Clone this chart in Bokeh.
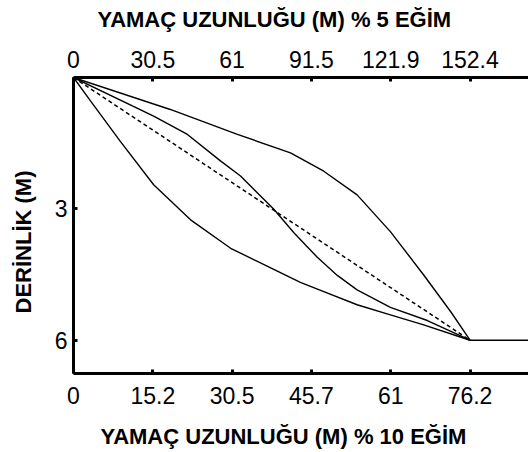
from bokeh.plotting import figure
from bokeh.models import Range1d, LinearAxis, FixedTicker, Title
from bokeh.embed import file_html
from bokeh.resources import INLINE

# ---- data ----
tick_pos = [0, 15.24, 30.48, 45.72, 60.96, 76.2]
bottom_labels = ["0", "15.2", "30.5", "45.7", "61", "76.2"]
top_labels = ["0", "30.5", "61", "91.5", "121.9", "152.4"]
y_ticks = [3, 6]
y_labels = ["3", "6"]

curve_a_x = [0, 18.6, 31.5, 41.7, 48.1, 54.5, 60.9, 67.3, 72.5, 76.2]
curve_a_y = [0, 0.73, 1.30, 1.72, 2.14, 2.68, 3.52, 4.51, 5.35, 6.0]

curve_b_x = [0, 3.3, 9.0, 15.4, 22.5, 30.2, 37.9, 43.6, 48.1, 54.5, 60.9, 67.3, 76.2]
curve_b_y = [0, 0.54, 1.46, 2.45, 3.25, 3.90, 4.35, 4.68, 4.89, 5.19, 5.42, 5.65, 6.0]

curve_c_x = [0, 15.4, 21.9, 28.3, 32.1, 38.5, 42.4, 46.8, 50.7, 54.5, 60.9, 68.0, 76.2]
curve_c_y = [0, 0.88, 1.30, 1.91, 2.25, 3.01, 3.55, 4.10, 4.52, 4.85, 5.25, 5.55, 6.0]

dashed_x = [0, 76.2]
dashed_y = [0, 6.0]

flat_x = [76.2, 95]
flat_y = [6.0, 6.0]

title_top = "YAMAÇ UZUNLUĞU (M) % 5 EĞİM"
title_bottom = "YAMAÇ UZUNLUĞU (M) % 10 EĞİM"
title_left = "DERİNLİK (M)"

# ---- figure ----
p = figure(width=528, height=452, output_backend="svg", toolbar_location=None,
           x_range=Range1d(0, 87.44), y_range=Range1d(6.76, 0),
           x_axis_location=None, y_axis_location=None,
           min_border_left=73, min_border_right=0,
           min_border_top=77, min_border_bottom=79)
p.title = None
p.outline_line_color = None
p.background_fill_color = "white"
p.border_fill_color = "white"
p.grid.visible = False

TICK_FONT = "Liberation Sans"


def style_axis(ax, ticks, labels, standoff):
    ax.ticker = FixedTicker(ticks=ticks)
    ax.major_label_overrides = {t: l for t, l in zip(ticks, labels)}
    ax.axis_line_width = 3
    ax.axis_line_color = "black"
    ax.major_tick_in = 4
    ax.major_tick_out = 0
    ax.major_tick_line_width = 3
    ax.major_tick_line_color = "black"
    ax.minor_tick_line_color = None
    ax.major_label_text_font = TICK_FONT
    ax.major_label_text_font_size = "23px"
    ax.major_label_text_color = "black"
    ax.major_label_standoff = standoff


def spacer(gap, tick):
    # a blank axis (white tick, empty label) that only reserves a gap
    ax = LinearAxis(ticker=FixedTicker(ticks=[tick]))
    ax.major_label_overrides = {tick: ""}
    ax.major_label_text_font_size = "1px"
    ax.major_label_standoff = 0
    ax.axis_line_color = None
    ax.major_tick_line_color = "white"
    ax.major_tick_line_width = 1
    ax.minor_tick_line_color = None
    ax.major_tick_in = 0
    ax.major_tick_out = gap
    return ax


def make_title(text, align_offset, valign, standoff=4):
    return Title(text=text, align="left", offset=align_offset,
                 vertical_align=valign,
                 text_font="Liberation Sans", text_font_size="22px",
                 text_font_style="bold", text_color="black", standoff=standoff)


ax_bottom = LinearAxis()
style_axis(ax_bottom, tick_pos, bottom_labels, 13)
p.add_layout(ax_bottom, "below")
p.add_layout(spacer(13, 0), "below")
p.add_layout(make_title(title_bottom, 27, "bottom"), "below")

ax_top = LinearAxis()
style_axis(ax_top, tick_pos, top_labels, 10)
p.add_layout(ax_top, "above")
p.add_layout(spacer(14, 0), "above")
p.add_layout(make_title(title_top, 24, "bottom"), "above")

ax_left = LinearAxis()
style_axis(ax_left, y_ticks, y_labels, 6)
p.add_layout(ax_left, "left")
p.add_layout(spacer(14, 3), "left")
p.add_layout(make_title(title_left, 60, "bottom"), "left")

# ---- curves ----
for xs, ys in [(curve_a_x, curve_a_y), (curve_b_x, curve_b_y), (curve_c_x, curve_c_y)]:
    p.line(xs, ys, line_color="black", line_width=1.4)

p.line(dashed_x, dashed_y, line_color="black", line_width=1.5, line_dash="4 3")
p.line(flat_x, flat_y, line_color="black", line_width=1.4)

open("out.html", "w").write(file_html(p, INLINE))
